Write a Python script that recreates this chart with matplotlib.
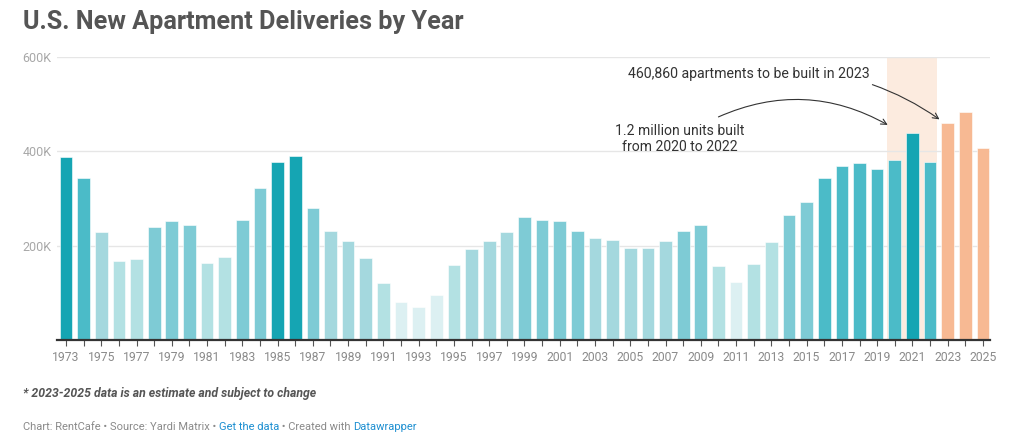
import matplotlib
matplotlib.use("Agg")
import matplotlib.pyplot as plt

plt.rcParams['font.family'] = ['Roboto', 'DejaVu Sans']

years = list(range(1973, 2026))
deliveries = [387, 343, 230, 167, 171, 240, 252, 243, 164, 176,
              254, 322, 377, 391, 279, 232, 210, 174, 121, 81,
              71, 96, 158, 193, 210, 230, 261, 254, 252, 232,
              217, 211, 196, 196, 210, 232, 243, 157, 122, 162,
              208, 264, 293, 343, 368, 375, 363, 382, 438, 377,
              460.86, 483, 408]
deliveries = [v * 1000 for v in deliveries]

# shade index per bar (0 = darkest teal ... 5 = palest, 6 = estimate)
palette = ['#15a5b3', '#4bbbc8', '#7ecbd5', '#a4d8de', '#b3e1e3', '#dcf0f2', '#f7b993']
shade = [0, 1, 3, 4, 4, 2, 2, 2, 4, 4,
         2, 2, 0, 0, 2, 3, 3, 3, 4, 5,
         5, 5, 4, 3, 3, 3, 2, 2, 2, 2,
         3, 3, 3, 3, 3, 2, 2, 4, 5, 4,
         4, 2, 2, 1, 1, 1, 1, 1, 0, 1,
         6, 6, 6]
colors = [palette[s] for s in shade]

W, H = 1024, 448
fig = plt.figure(figsize=(W / 100, H / 100), dpi=100)
ax = fig.add_axes([57 / W, (H - 340) / H, (990 - 57) / W, (340 - 57) / H])

ax.axvspan(2019.58, 2022.38, color='#fcebdf', zorder=0, lw=0)
ax.bar(years, deliveries, width=0.72, color=colors, edgecolor='white', linewidth=0.4, zorder=2)

ax.set_xlim(1972.49, 2025.4)
ax.set_ylim(0, 600000)

ax.set_yticks([200000, 400000, 600000])
ax.set_yticklabels(['200K', '400K', '600K'])
ax.yaxis.grid(True, color='#e6e6e6', linewidth=1)
ax.set_axisbelow(True)
ax.tick_params(axis='y', length=0, pad=4, labelsize=9, labelcolor='#a8a8a8')

ax.set_xticks(years)
ax.set_xticklabels([str(y) if y % 2 == 1 else '' for y in years])
ax.tick_params(axis='x', length=4, width=0.8, color='#555555', pad=4,
               labelsize=8.7, labelcolor='#8a8a8a')

for s in ['top', 'right', 'left']:
    ax.spines[s].set_visible(False)
ax.spines['bottom'].set_color('#333333')
ax.spines['bottom'].set_linewidth(1.6)
ax.spines['bottom'].set_zorder(3)

# annotations
ax.annotate('460,860 apartments to be built in 2023',
            xy=(2022.6, 466000), xytext=(2018.6, 564000),
            ha='right', va='center', fontsize=10.2, color='#333333',
            arrowprops=dict(arrowstyle='->', color='#333333', lw=0.8,
                            shrinkA=2, shrinkB=1,
                            connectionstyle='arc3,rad=-0.2'))
ax.text(2007.8, 426000, '1.2 million units built\nfrom 2020 to 2022',
        ha='center', va='center', fontsize=10.1, color='#333333', linespacing=1.2)
ax.annotate('', xy=(2019.6, 456000), xytext=(2010.0, 473000),
            arrowprops=dict(arrowstyle='->', color='#333333', lw=0.8,
                            shrinkA=0, shrinkB=0,
                            connectionstyle='arc3,rad=-0.25'))

# title and notes
fig.text(23 / W, 1 - 22 / H, 'U.S. New Apartment Deliveries by Year',
         fontsize=18.2, fontweight='bold', color='#555555', va='center', ha='left')
fig.text(23 / W, 1 - 393 / H, '* 2023-2025 data is an estimate and subject to change',
         fontsize=8.8, fontweight='bold', fontstyle='italic', color='#555555',
         va='center', ha='left')

footer = [('Chart: RentCafe \u2022 Source: Yardi Matrix \u2022 ', '#8a8a8a'),
          ('Get the data', '#1d8fd1'),
          (' \u2022 Created with ', '#8a8a8a'),
          ('Datawrapper', '#1d8fd1')]
renderer = fig.canvas.get_renderer()
x = 23
for txt, col in footer:
    t = fig.text(x / W, 1 - 427 / H, txt, fontsize=8, color=col, va='center', ha='left')
    x += t.get_window_extent(renderer).width

fig.savefig('out.png', dpi=100)
